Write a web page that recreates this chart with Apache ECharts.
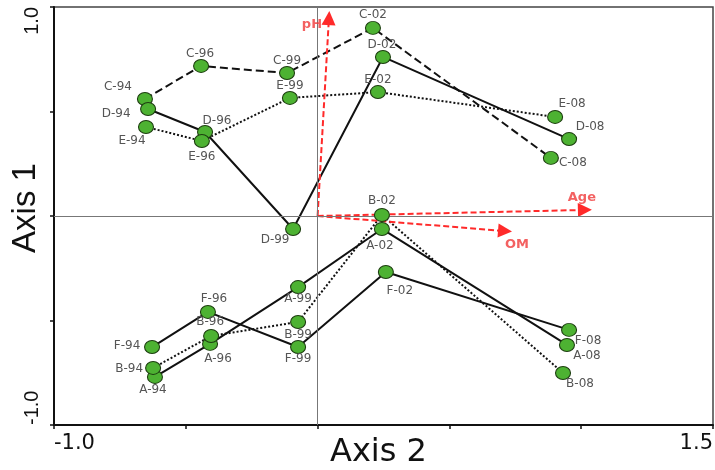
<!DOCTYPE html>
<html>
<head>
<meta charset="utf-8">
<script src="https://cdn.jsdelivr.net/npm/echarts@6/dist/echarts.min.js"></script>
<style>html,body{margin:0;padding:0;background:#fff}#c{width:715px;height:470px}</style>
</head>
<body>
<div id="c"></div>
<script>
// ---- data ----
var years = ['94', '96', '99', '02', '08'];
var groups = ['A', 'B', 'C', 'D', 'E', 'F'];
var A_x = [-0.617, -0.408, -0.074, 0.244, 0.946];
var A_y = [-0.770, -0.612, -0.340, -0.062, -0.617];
var B_x = [-0.624, -0.404, -0.074, 0.244, 0.931];
var B_y = [-0.727, -0.574, -0.507, 0.005, -0.751];
var C_x = [-0.655, -0.442, -0.116, 0.210, 0.885];
var C_y = [0.560, 0.718, 0.684, 0.900, 0.278];
var D_x = [-0.643, -0.427, -0.093, 0.248, 0.954];
var D_y = [0.512, 0.402, -0.062, 0.761, 0.368];
var E_x = [-0.651, -0.439, -0.105, 0.229, 0.901];
var E_y = [0.426, 0.359, 0.565, 0.593, 0.474];
var F_x = [-0.628, -0.416, -0.074, 0.259, 0.954];
var F_y = [-0.627, -0.459, -0.627, -0.268, -0.545];
var vectorNames = ['pH', 'Age', 'OM'];
var vector_x = [0.043, 1.014, 0.711];
var vector_y = [0.947, 0.029, -0.072];
var xTicks = [-1.0, 1.5];
var yTicks = [-1.0, 1.0];

// ---- layout / style (not data) ----
var labelOffsets = {
  A: [[-2, 13], [8, 15], [0, 12], [-2, 17], [20, 11]],
  B: [[-24, 1], [-1, -14], [0, 13], [0, -14], [17, 11]],
  C: [[-27, -12], [-1, -12], [0, -12], [0, -13], [22, 5]],
  D: [[-32, 5], [12, -11], [-18, 11], [-1, -12], [21, -12]],
  E: [[-14, 14], [0, 16], [0, -12], [0, -12], [17, -13]],
  F: [[-25, -1], [6, -13], [0, 12], [14, 19], [19, 11]]
};
var lineTypes = { A: 'solid', B: [2, 2], C: [8, 4], D: 'solid', E: [2, 2], F: 'solid' };
var vectorLabelOffsets = [[-17, 7], [-3, -12], [12, 14]];

var X = { A: A_x, B: B_x, C: C_x, D: D_x, E: E_x, F: F_x };
var Y = { A: A_y, B: B_y, C: C_y, D: D_y, E: E_y, F: F_y };

var series = [];
groups.forEach(function (g) {
  var pts = X[g].map(function (x, i) { return [x, Y[g][i]]; });
  series.push({
    type: 'line', name: g + '-line', data: pts, showSymbol: false, symbol: 'none',
    lineStyle: { color: '#111', width: 2, type: lineTypes[g] }, z: 2, silent: true, animation: false
  });
});
// zero lines
series[0].markLine = {
  silent: true, symbol: ['none', 'none'], animation: false,
  label: { show: false },
  lineStyle: { color: '#777', width: 1, type: 'solid' },
  data: [{ xAxis: 0 }, { yAxis: 0 }]
};
// red vectors
series.push({
  type: 'lines', coordinateSystem: 'cartesian2d', z: 4, animation: false,
  symbol: ['none', 'triangle'], symbolSize: 14,
  lineStyle: { color: '#ff2a2a', width: 2, type: [6, 3], opacity: 1 },
  data: vectorNames.map(function (n, i) { return { name: n, coords: [[0, 0], [vector_x[i], vector_y[i]]] }; })
});
series.push({
  type: 'scatter', symbolSize: 0, z: 6, animation: false, silent: true,
  data: vectorNames.map(function (n, i) {
    return {
      value: [vector_x[i], vector_y[i]], name: n,
      label: { show: true, position: 'inside', offset: vectorLabelOffsets[i], formatter: n,
        color: '#f03a3a', fontWeight: 'bold', fontSize: 13, fontFamily: 'DejaVu Sans' }
    };
  })
});
// points with labels
groups.forEach(function (g) {
  series.push({
    type: 'scatter', z: 5, animation: false, silent: true,
    symbol: 'circle', symbolSize: [15, 13],
    itemStyle: { color: '#4db232', borderColor: '#1d3d10', borderWidth: 1, opacity: 1 },
    data: X[g].map(function (x, i) {
      return {
        value: [x, Y[g][i]],
        label: { show: true, position: 'inside', offset: labelOffsets[g][i],
          formatter: g + '-' + years[i], color: '#555', fontSize: 12, fontFamily: 'DejaVu Sans' }
      };
    })
  });
});

var chart = echarts.init(document.getElementById('c'), null, { renderer: 'canvas' });
chart.setOption({
  animation: false,
  backgroundColor: '#fff',
  grid: { left: 54, right: 2, top: 7, bottom: 45, show: true, borderColor: '#444', borderWidth: 1.5, outerBoundsMode: 'none' },
  xAxis: {
    type: 'value', min: xTicks[0], max: xTicks[1], interval: 0.5,
    name: 'Axis 2', nameLocation: 'middle', nameGap: 12, nameMoveOverlap: false,
    nameTextStyle: { fontSize: 32, fontFamily: 'DejaVu Sans', color: '#111', padding: [0, 10, 0, 0] },
    axisLine: { show: true, onZero: false, lineStyle: { color: '#111', width: 2 } },
    axisTick: { show: true, length: 4, lineStyle: { color: '#111', width: 1.5 } },
    splitLine: { show: false },
    axisLabel: {
      margin: 8, fontSize: 21, fontFamily: 'DejaVu Sans', color: '#111',
      alignMinLabel: 'left', alignMaxLabel: 'right',
      formatter: function (v) { return (Math.abs(v - xTicks[0]) < 1e-9 || Math.abs(v - xTicks[1]) < 1e-9) ? v.toFixed(1) : ''; }
    }
  },
  yAxis: {
    type: 'value', min: yTicks[0], max: yTicks[1], interval: 0.5,
    name: 'Axis 1', nameLocation: 'middle', nameGap: 12, nameMoveOverlap: false,
    nameTextStyle: { fontSize: 33, fontFamily: 'Liberation Sans', color: '#111', padding: [0, 0, 0, 16] },
    axisLine: { show: true, onZero: false, lineStyle: { color: '#111', width: 2 } },
    axisTick: { show: true, length: 4, lineStyle: { color: '#111', width: 1.5 } },
    splitLine: { show: false },
    axisLabel: {
      rotate: 90, margin: 12, fontSize: 20, fontFamily: 'Liberation Sans', color: '#111',
      alignMinLabel: 'left', alignMaxLabel: 'right',
      formatter: function (v) { return (Math.abs(v - yTicks[0]) < 1e-9 || Math.abs(v - yTicks[1]) < 1e-9) ? v.toFixed(1) : ''; }
    }
  },
  series: series
});
</script>
</body>
</html>
